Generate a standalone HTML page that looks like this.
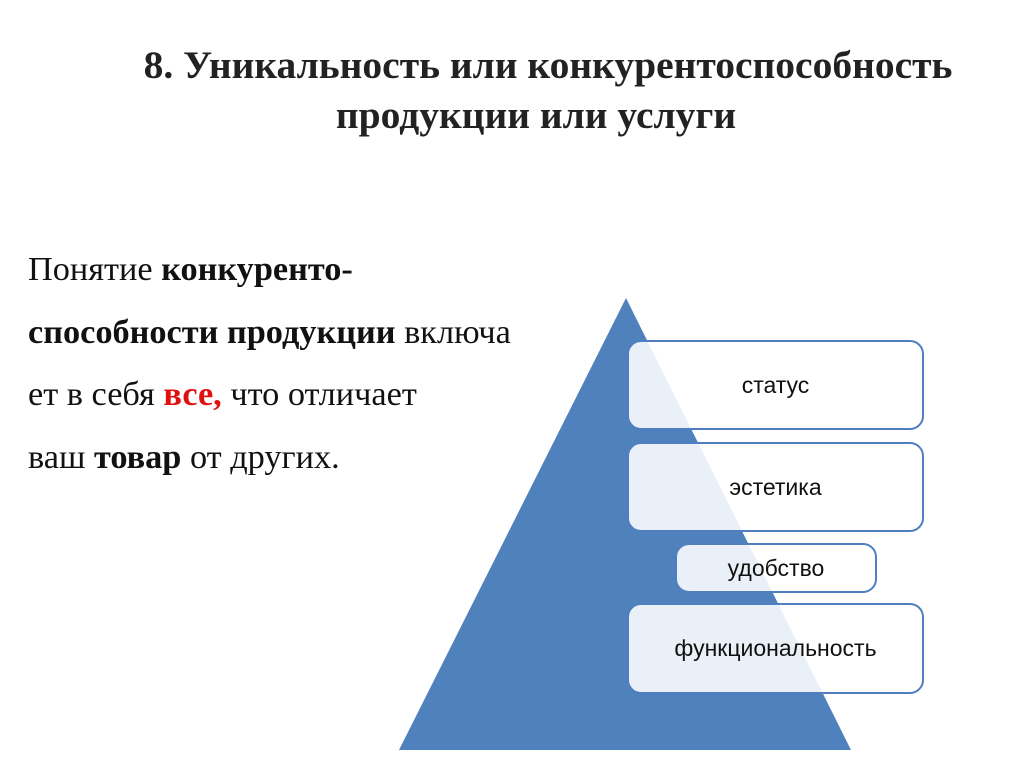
<!DOCTYPE html>
<html><head><meta charset="utf-8"><style>
body{margin:0;width:1024px;height:767px;background:#fff;position:relative;overflow:hidden;font-family:"Liberation Serif",serif;}
.t{position:absolute;left:0;width:1024px;text-align:center;font-weight:bold;font-size:39.5px;color:#222;white-space:nowrap;line-height:1;}
.b{position:absolute;left:28px;font-size:34.3px;color:#111;white-space:nowrap;line-height:1;}
.box{position:absolute;box-sizing:border-box;border:2.5px solid #4f7fbf;border-radius:14px;background:rgba(255,255,255,0.88);font-family:"Liberation Sans",sans-serif;font-size:23px;color:#111;display:flex;align-items:center;justify-content:center;}
</style></head><body>
<div class="t" style="top:46px;left:36px">8. Уникальность или конкурентоспособность</div>
<div class="t" style="top:96px;left:24px">продукции или услуги</div>
<div class="b" style="top:252px">Понятие <b>конкуренто-</b></div>
<div class="b" style="top:315px"><b>способности продукции</b> включа</div>
<div class="b" style="top:377px">ет в себя <b style="color:#e01010">все,</b> что отличает</div>
<div class="b" style="top:440px">ваш <b>товар</b> от других.</div>
<svg style="position:absolute;left:0;top:0" width="1024" height="767"><polygon points="626,298 399,750 851,750" fill="#4f81bd"/></svg>
<div class="box" style="left:627px;top:340px;width:297px;height:90px">статус</div>
<div class="box" style="left:627px;top:442px;width:297px;height:90px">эстетика</div>
<div class="box" style="left:675px;top:543px;width:202px;height:50px">удобство</div>
<div class="box" style="left:627px;top:603px;width:297px;height:91px">функциональность</div>
</body></html>
